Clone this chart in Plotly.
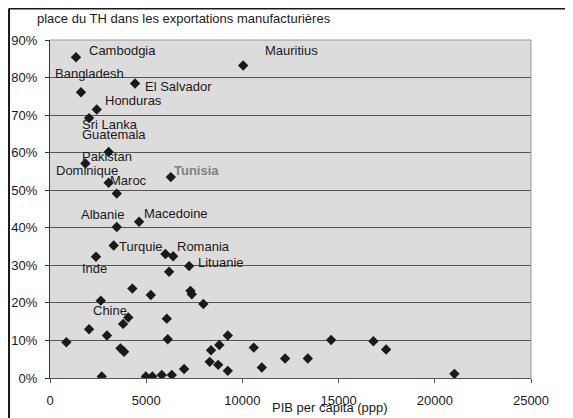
import plotly.graph_objects as go

# PIB per capita (ppp) and share of textiles/clothing in manufactured exports
gdp = [1350, 10040, 1610, 4420, 2430, 2030, 3050, 1840, 3050, 6280, 3470,
       3470, 4630, 3310, 2390, 6000, 6400, 6190, 7230, 4280, 5240, 7300,
       7370, 2640, 7970, 4070, 6070, 3800, 2030, 2960, 9240, 6120, 850,
       8800, 10590, 3660, 3850, 8370, 12220, 8300, 8740, 11010, 6970, 9240,
       5810, 6330, 2690, 4980, 5320, 13400, 14610, 16810, 17470, 21020]
share = [85.4, 83.2, 76.1, 78.4, 71.5, 69.2, 60.2, 57.1, 52.0, 53.5, 49.1,
         40.2, 41.6, 35.3, 32.3, 33.0, 32.4, 28.3, 29.8, 23.8, 22.1, 23.2,
         22.3, 20.6, 19.7, 16.1, 15.8, 14.4, 13.0, 11.3, 11.3, 10.3, 9.5,
         8.8, 8.1, 7.9, 7.0, 7.4, 5.2, 4.3, 3.5, 2.8, 2.4, 1.9,
         0.8, 0.8, 0.4, 0.4, 0.4, 5.2, 10.1, 9.8, 7.6, 1.1]
names = ["Cambodgia", "Mauritius", "Bangladesh", "El Salvador", "Honduras",
         "Sri Lanka", "Guatemala", "Pakistan", "Maroc", "Tunisia", "Dominique",
         "Albanie", "Macedoine", "Turquie", "Inde", "", "Romania", "",
         "Lituanie", "", "", "", "", "", "", "Chine"] + [""] * 28

y_ticks = [0, 10, 20, 30, 40, 50, 60, 70, 80, 90]
x_ticks = [0, 5000, 10000, 15000, 20000, 25000]

# label offsets from their marker, in pixels (xshift, yshift)
offsets = {
    "Cambodgia": (11, 7), "Mauritius": (20, 15), "Bangladesh": (-28, 19),
    "El Salvador": (8, -3), "Honduras": (6, 9), "Sri Lanka": (-9, -6),
    "Guatemala": (-29, 17), "Pakistan": (-5, 7), "Maroc": (-1, 2),
    "Tunisia": (1, 7), "Dominique": (-63, 23), "Albanie": (-38, 13),
    "Macedoine": (3, 8), "Turquie": (3, -1), "Romania": (2, 10),
    "Inde": (-16, -12), "Lituanie": (7, 4), "Chine": (-37, 7),
}

FONT = "Liberation Sans, Arial, sans-serif"

fig = go.Figure()
fig.add_trace(go.Scatter(
    x=gdp, y=[v / 100 for v in share], mode="markers",
    marker=dict(symbol="diamond", size=8, color="#1a1a1a"),
    text=names, hoverinfo="x+y+text", showlegend=False,
))

for n, gx, sv in zip(names, gdp, share):
    if not n:
        continue
    dx, dy = offsets[n]
    tunisia = n == "Tunisia"
    fig.add_annotation(
        x=gx, y=sv / 100, xref="x", yref="y", text=f"<b>{n}</b>" if tunisia else n,
        showarrow=False, xanchor="left", yanchor="middle", xshift=dx, yshift=dy,
        font=dict(family=FONT, size=13, color="#808080" if tunisia else "#1a1a1a"),
    )

fig.add_annotation(
    x=-0.031, y=1.065, xref="paper", yref="paper", xanchor="left", yanchor="middle",
    text="place du TH dans les exportations manufacturières", showarrow=False,
    font=dict(family=FONT, size=13, color="#1a1a1a"),
)
fig.add_annotation(
    x=0.582, y=-0.088, xref="paper", yref="paper", xanchor="center", yanchor="middle",
    text="PIB per capita (ppp)", showarrow=False,
    font=dict(family=FONT, size=13, color="#1a1a1a"),
)

# outer frame (left and top only)
fig.add_shape(type="line", xref="paper", yref="paper", x0=-0.0852, x1=-0.0852,
              y0=-0.2, y1=1.093, line=dict(color="#1a1a1a", width=2))
fig.add_shape(type="line", xref="paper", yref="paper", x0=-0.0852, x1=1.2,
              y0=1.093, y1=1.093, line=dict(color="#1a1a1a", width=2))
# plot-area border right/top
fig.add_shape(type="line", xref="paper", yref="paper", x0=1, x1=1, y0=0, y1=1,
              line=dict(color="#999999", width=1))
fig.add_shape(type="line", xref="paper", yref="paper", x0=0, x1=1, y0=1, y1=1,
              line=dict(color="#999999", width=1))

fig.update_xaxes(
    range=[0, 25000], tickvals=x_ticks, ticktext=[str(t) for t in x_ticks],
    showgrid=False, zeroline=False, showline=True, linecolor="#555555", linewidth=1,
    ticks="outside", ticklen=4, tickcolor="#555555", ticklabelstandoff=6,
    automargin=False,
    tickfont=dict(family=FONT, size=13, color="#1a1a1a"),
)
fig.update_yaxes(
    range=[0, 0.9], tickvals=[t / 100 for t in y_ticks],
    ticktext=[f"{t}%" for t in y_ticks],
    showgrid=True, gridcolor="#555555", gridwidth=1, zeroline=False,
    showline=True, linecolor="#333333", linewidth=1,
    ticks="outside", ticklen=4, tickcolor="#333333", ticklabelstandoff=5,
    automargin=False,
    tickfont=dict(family=FONT, size=13, color="#1a1a1a"),
)
# the page body adds an 8px offset, so margins are shifted to compensate
fig.update_layout(
    width=573, height=418,
    margin=dict(l=42, r=50, t=32, b=48),
    plot_bgcolor="#dcdcdc", paper_bgcolor="white",
    hovermode="closest",
)

fig.write_html("out.html")
